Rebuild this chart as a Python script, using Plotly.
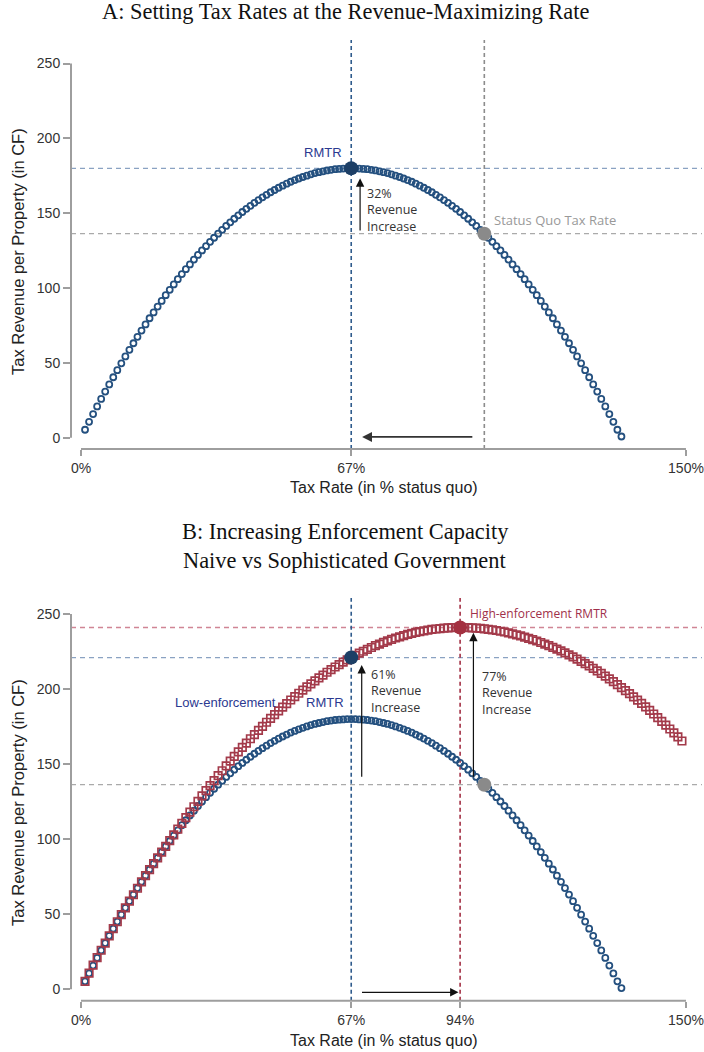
import plotly.graph_objects as go

# ---------------- data ----------------
rate_low = list(range(1, 135))          # tax rate, % of status quo
revenue_low = [
    5.3, 10.6, 15.8, 20.9, 25.9, 30.8, 35.6, 40.4, 45.1, 49.7,
    54.3, 58.7, 63.1, 67.4, 71.6, 75.7, 79.8, 83.7, 87.6, 91.4,
    95.2, 98.8, 102.4, 105.9, 109.3, 112.6, 115.8, 119.0, 122.1, 125.1,
    128.0, 130.9, 133.6, 136.3, 138.9, 141.5, 143.9, 146.3, 148.6, 150.8,
    152.9, 154.9, 156.9, 158.8, 160.6, 162.3, 164.0, 165.5, 167.0, 168.4,
    169.7, 171.0, 172.1, 173.2, 174.2, 175.1, 176.0, 176.8, 177.4, 178.0,
    178.6, 179.0, 179.4, 179.6, 179.8, 180.0, 180.0,
    180.0, 179.8, 179.6, 179.4, 179.0, 178.6, 178.0, 177.4, 176.8, 176.0,
    175.1, 174.2, 173.2, 172.1, 171.0, 169.7, 168.4, 167.0, 165.5, 164.0,
    162.3, 160.6, 158.8, 156.9, 154.9, 152.9, 150.8, 148.6, 146.3, 143.9,
    141.5, 138.9, 136.3, 133.6, 130.9, 128.0, 125.1, 122.1, 119.0, 115.8,
    112.6, 109.3, 105.9, 102.4, 98.8, 95.2, 91.4, 87.6, 83.7, 79.8,
    75.7, 71.6, 67.4, 63.1, 58.7, 54.3, 49.7, 45.1, 40.4, 35.6,
    30.8, 25.9, 20.9, 15.8, 10.6, 5.3, 0.8,
]

rate_high = list(range(1, 150))
revenue_high = [
    5.3, 10.8, 16.1, 21.1, 26.0, 30.8, 35.6, 40.4, 45.0, 49.7,
    54.2, 58.7, 63.0, 67.3, 71.6, 75.7, 79.7, 83.7, 87.6, 91.4,
    95.2, 99.0, 102.9, 106.7, 110.5, 114.3, 118.0, 121.6, 125.2, 128.8,
    132.3, 135.7, 139.0, 142.4, 145.6, 148.8, 152.0, 155.1, 158.1, 161.1,
    164.0, 166.9, 169.7, 172.5, 175.2, 177.9, 180.5, 183.0, 185.5, 188.0,
    190.3, 192.7, 194.9, 197.2, 199.3, 201.4, 203.5, 205.5, 207.4, 209.3,
    211.2, 212.9, 214.7, 216.3, 218.0, 219.5, 221.0, 222.5, 223.9, 225.2,
    226.5, 227.7, 228.9, 230.0, 231.1, 232.1, 233.1, 234.0, 234.8, 235.6,
    236.4, 237.1, 237.7, 238.3, 238.8, 239.2, 239.7, 240.0, 240.3, 240.6,
    240.8, 240.9, 241.0, 241.0,
    241.0, 240.9, 240.8, 240.6, 240.4, 240.1, 239.8, 239.4, 239.0, 238.5,
    238.0, 237.4, 236.8, 236.1, 235.4, 234.6, 233.8, 232.9, 232.0, 231.0,
    230.0, 228.9, 227.8, 226.6, 225.4, 224.1, 222.8, 221.4, 220.0, 218.5,
    217.0, 215.4, 213.8, 212.1, 210.4, 208.6, 206.8, 204.9, 203.0, 201.0,
    199.0, 196.9, 194.8, 192.6, 190.4, 188.1, 185.8, 183.4, 181.0, 178.5,
    176.0, 173.4, 170.8, 168.1, 165.4,
]

status_quo_rate = 100
status_quo_rev = 136.3
rmtr_low = 67
rmtr_low_rev = 180.0
rmtr_high = 94
rmtr_high_rev = 241.0
high_at_low_rmtr = 221.0

xticks_a = [0, 67, 150]
xticks_b = [0, 67, 94, 150]
yticks = [0, 50, 100, 150, 200, 250]

# ---------------- style ----------------
W, H = 704, 1052
BLUE = "#24507f"
DOT_BLUE = "#1d3f66"
RED = "#a33a4a"
DOT_RED = "#a33040"
GRAY_DOT = "#8a8a8a"
AXIS = "#9e9e9e"
TXT = "#333333"
LABEL_BLUE = "#2b3990"
SANS = "Liberation Sans, Arial, sans-serif"
SANS2 = "Open Sans, sans-serif"
SERIF = "Liberation Serif, Times New Roman, serif"


def px(x):
    return x / W


def py(y):
    return 1 - y / H


xdom = [px(71), px(690)]
xrange_ = [-2.48, 151.0]
ydomA = [py(449), py(55)]
yrangeA = [-7.55, 255.7]
ydomB = [py(1000.7), py(606)]
yrangeB = [-7.59, 255.33]

fig = go.Figure()

circ = dict(symbol="circle-open", size=6, color=BLUE, line=dict(width=1.8, color=BLUE))
sq = dict(symbol="square-open", size=7.5, color=RED, line=dict(width=1.7, color=RED))

# Panel A curve
fig.add_trace(go.Scatter(x=rate_low, y=revenue_low, mode="markers", xaxis="x", yaxis="y",
                         marker=circ, showlegend=False, hoverinfo="skip"))
fig.add_trace(go.Scatter(x=[rmtr_low], y=[rmtr_low_rev], mode="markers", xaxis="x", yaxis="y",
                         marker=dict(symbol="circle", size=14, color=DOT_BLUE), showlegend=False))
fig.add_trace(go.Scatter(x=[status_quo_rate], y=[status_quo_rev], mode="markers", xaxis="x", yaxis="y",
                         marker=dict(symbol="circle", size=14, color=GRAY_DOT), showlegend=False))

# Panel B curves
fig.add_trace(go.Scatter(x=rate_low, y=revenue_low, mode="markers", xaxis="x2", yaxis="y2",
                         marker=circ, showlegend=False, hoverinfo="skip"))
fig.add_trace(go.Scatter(x=rate_high, y=revenue_high, mode="markers", xaxis="x2", yaxis="y2",
                         marker=sq, showlegend=False, hoverinfo="skip"))
fig.add_trace(go.Scatter(x=[rmtr_low], y=[high_at_low_rmtr], mode="markers", xaxis="x2", yaxis="y2",
                         marker=dict(symbol="circle", size=14, color=DOT_BLUE), showlegend=False))
fig.add_trace(go.Scatter(x=[rmtr_high], y=[rmtr_high_rev], mode="markers", xaxis="x2", yaxis="y2",
                         marker=dict(symbol="circle", size=14, color=DOT_RED), showlegend=False))
fig.add_trace(go.Scatter(x=[status_quo_rate], y=[status_quo_rev], mode="markers", xaxis="x2", yaxis="y2",
                         marker=dict(symbol="circle", size=14, color=GRAY_DOT), showlegend=False))

shapes = []


def hline(yval, yref, color):
    shapes.append(dict(type="line", xref="paper", yref=yref, x0=px(71), x1=px(702), y0=yval, y1=yval,
                       line=dict(color=color, width=1.3, dash="5px,4px"), layer="below"))


def vline(xval, xref, ybot, ytop, color):
    shapes.append(dict(type="line", xref=xref, yref="paper", x0=xval, x1=xval, y0=ybot, y1=ytop,
                       line=dict(color=color, width=1.6, dash="4px,3px"), layer="below"))


# Panel A reference lines
hline(rmtr_low_rev, "y", "#8aa2c2")
hline(status_quo_rev, "y", "#aaaaaa")
vline(rmtr_low, "x", ydomA[0], py(40), "#2f5b8c")
vline(status_quo_rate, "x", ydomA[0], py(40), "#8c8c8c")
# Panel B reference lines
hline(rmtr_high_rev, "y2", "#d08595")
hline(high_at_low_rmtr, "y2", "#8aa2c2")
hline(status_quo_rev, "y2", "#aaaaaa")
vline(rmtr_low, "x2", ydomB[0], py(598), "#2f5b8c")
vline(rmtr_high, "x2", ydomB[0], py(598), "#a33045")

# axis lines (Stata-like, offset)
for xr, yr, ybase in (("x", "y", ydomA[0]), ("x2", "y2", ydomB[0])):
    shapes.append(dict(type="line", xref="paper", yref=yr, x0=px(71), x1=px(71), y0=0, y1=250,
                       line=dict(color=AXIS, width=2)))
    shapes.append(dict(type="line", xref=xr, yref="paper", x0=0, x1=150, y0=ybase, y1=ybase,
                       line=dict(color=AXIS, width=2)))

ann = []


def text(s, x, y, size=13, color=TXT, font=SANS, xanchor="left", yanchor="middle"):
    ann.append(dict(text=s, x=px(x), y=py(y), xref="paper", yref="paper", showarrow=False,
                    xanchor=xanchor, yanchor=yanchor, align="left",
                    font=dict(size=size, color=color, family=font)))


def arrow(xref, yref, x_head, y_head, x_tail, y_tail, color="#111111", width=1.2, size=1.4):
    ann.append(dict(text="", xref=xref, yref=yref, axref=xref, ayref=yref,
                    x=x_head, y=y_head, ax=x_tail, ay=y_tail, showarrow=True,
                    arrowhead=2, arrowsize=size, arrowwidth=width, arrowcolor=color, standoff=0))


# titles
text("A: Setting Tax Rates at the Revenue-Maximizing Rate", 345, 12, size=22.4, color="#111111", font=SERIF, xanchor="center")
text("B: Increasing Enforcement Capacity", 345, 531, size=22.4, color="#111111", font=SERIF, xanchor="center")
text("Naive vs Sophisticated Government", 345, 560, size=22.4, color="#111111", font=SERIF, xanchor="center")

# axis titles
for ycen, xt_y in ((252, 488), (803, 1040)):
    ann.append(dict(text="Tax Revenue per Property (in CF)", x=px(18), y=py(ycen), xref="paper", yref="paper",
                    showarrow=False, textangle=-90, xanchor="center", yanchor="middle",
                    font=dict(size=16.5, color="#222222", family=SANS)))
    text("Tax Rate (in % status quo)", 383.5, xt_y, size=16, color="#222222", xanchor="center")

# Panel A labels
text("RMTR", 322.7, 152.7, size=13, color=LABEL_BLUE, xanchor="center")
text("32%<br>Revenue<br>Increase", 365, 210.4, size=12.5, font=SANS2)
text("Status Quo Tax Rate", 492, 220, size=13, color="#999999", font=SANS2)
arrow("x", "y", 69.2, 173.3, 69.2, 137.5)
arrow("x", "y", 69.7, 0.5, 97.4, 0.5, color="#333333", width=1.8, size=1.1)

# Panel B labels
text("Low-enforcement", 172.7, 702.7, size=13, color=LABEL_BLUE)
text("RMTR", 304, 702.7, size=13, color=LABEL_BLUE)
text("61%<br>Revenue<br>Increase", 368.5, 690.7, size=12.5, font=SANS2)
text("77%<br>Revenue<br>Increase", 479.5, 692.7, size=12.5, font=SANS2)
text("High-enforcement RMTR", 467.5, 613.3, size=12, color="#a0304a", font=SANS2)
arrow("x2", "y2", 69.6, 216.0, 69.6, 140.6)
arrow("x2", "y2", 97.3, 237.5, 97.3, 140.6)
arrow("x2", "y2", 93.6, -2.0, 69.3, -2.0)

axis_common = dict(showgrid=False, zeroline=False, showline=False, ticks="outside", tickcolor=AXIS,
                   tickwidth=1.5, tickfont=dict(size=14, color="#333333", family=SANS), fixedrange=True)

fig.update_layout(
    width=W, height=H, autosize=False, margin=dict(l=0, r=0, t=0, b=0, autoexpand=False),
    paper_bgcolor="white", plot_bgcolor="white",
    xaxis=dict(domain=xdom, range=xrange_, anchor="y", tickvals=xticks_a,
               ticktext=[f"{v}%" for v in xticks_a], ticklen=6, **axis_common),
    yaxis=dict(domain=ydomA, range=yrangeA, anchor="x", tickvals=yticks, ticklen=7, **axis_common),
    xaxis2=dict(domain=xdom, range=xrange_, anchor="y2", tickvals=xticks_b,
                ticktext=[f"{v}%" for v in xticks_b], ticklen=6, **axis_common),
    yaxis2=dict(domain=ydomB, range=yrangeB, anchor="x2", tickvals=yticks, ticklen=7, **axis_common),
    shapes=shapes, annotations=ann,
)

post = (
    "document.documentElement.style.margin='0';document.documentElement.style.overflow='hidden';"
    "document.body.style.margin='0';document.body.style.overflow='hidden';"
    "var gd=document.getElementById('{plot_id}');"
    "Plotly.relayout(gd,{width:704,height:1052,autosize:false});"
)
fig.write_html("out.html", config={"displayModeBar": False, "responsive": False}, post_script=post)
